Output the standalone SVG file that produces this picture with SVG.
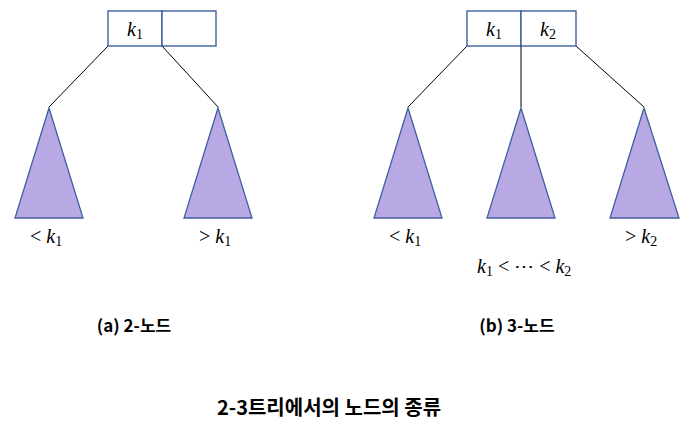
<svg xmlns="http://www.w3.org/2000/svg" width="688" height="431" viewBox="0 0 688 431">
<style>
.box{fill:#fff;stroke:#2f5597;stroke-width:1.3}
.tri{fill:#b8a9e5;stroke:#3f5fa0;stroke-width:1.3}
.edge{stroke:#000;stroke-width:1;fill:none}
.m{font-family:"Liberation Serif","DejaVu Serif",serif;font-size:20px;fill:#000}
.mi{font-style:italic}
.sub{font-size:14px}
.cap{font-family:"Noto Sans CJK KR","Noto Sans",sans-serif;font-weight:bold;font-size:17px;fill:#000}
.title{font-family:"Noto Sans CJK KR","Noto Sans",sans-serif;font-weight:bold;font-size:20px;fill:#000}
</style>
<g id="connectors">
<line class="edge" x1="108" y1="46" x2="49" y2="107"/>
<line class="edge" x1="162" y1="46" x2="218" y2="107"/>
<line class="edge" x1="467" y1="46" x2="408" y2="107"/>
<line class="edge" x1="521" y1="46" x2="521" y2="107"/>
<line class="edge" x1="576" y1="46" x2="644" y2="107"/>
</g>
<g id="node-a">
<rect class="box" x="108" y="11" width="54" height="35"/>
<rect class="box" x="162" y="11" width="54" height="35"/>
<text class="m" x="127" y="36"><tspan class="mi">k</tspan><tspan class="sub" dy="3">1</tspan></text>
</g>
<g id="node-b">
<rect class="box" x="467" y="11" width="54" height="35"/>
<rect class="box" x="521" y="11" width="55" height="35"/>
<text class="m" x="486" y="36"><tspan class="mi">k</tspan><tspan class="sub" dy="3">1</tspan></text>
<text class="m" x="540" y="36"><tspan class="mi">k</tspan><tspan class="sub" dy="3">2</tspan></text>
</g>
<g id="tree-a1">
<polygon class="tri" points="49,108 15,218 83,218"/>
<text class="m" x="30" y="243">&lt;<tspan class="mi" dx="5">k</tspan><tspan class="sub" dy="3">1</tspan></text>
</g>
<g id="tree-a2">
<polygon class="tri" points="218,108 184,218 252,218"/>
<text class="m" x="199" y="243">&gt;<tspan class="mi" dx="5">k</tspan><tspan class="sub" dy="3">1</tspan></text>
</g>
<g id="tree-b1">
<polygon class="tri" points="408,108 374,218 442,218"/>
<text class="m" x="389" y="243">&lt;<tspan class="mi" dx="5">k</tspan><tspan class="sub" dy="3">1</tspan></text>
</g>
<g id="tree-b2">
<polygon class="tri" points="521,108 487,218 555,218"/>
<text class="m" x="477" y="273"><tspan class="mi">k</tspan><tspan class="sub" dy="3">1</tspan><tspan dy="-3" dx="5">&lt;</tspan><tspan dx="5">⋯</tspan><tspan dx="5">&lt;</tspan><tspan class="mi" dx="5">k</tspan><tspan class="sub" dy="3">2</tspan></text>
</g>
<g id="tree-b3">
<polygon class="tri" points="644,108 610,218 679,218"/>
<text class="m" x="625" y="243">&gt;<tspan class="mi" dx="5">k</tspan><tspan class="sub" dy="3">2</tspan></text>
</g>
<text class="cap" x="134" y="332" text-anchor="middle">(a) 2-노드</text>
<text class="cap" x="517" y="332" text-anchor="middle">(b) 3-노드</text>
<text class="title" x="329" y="415" text-anchor="middle">2-3트리에서의 노드의 종류</text>
</svg>
